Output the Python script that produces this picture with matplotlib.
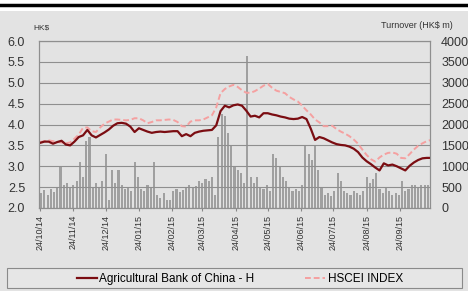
import matplotlib
matplotlib.use('Agg')
import matplotlib.pyplot as plt
import matplotlib.dates as mdates
from matplotlib.patches import Rectangle
from matplotlib.lines import Line2D
import pandas as pd
import numpy as np

plt.rcParams['font.family'] = ['Liberation Sans', 'DejaVu Sans']

# prices every 4 days from 24/10/14
price_start = '2014-10-24'
abc_h = [3.56, 3.59, 3.59, 3.54, 3.58, 3.61, 3.52, 3.50, 3.59, 3.70,
         3.74, 3.87, 3.74, 3.69, 3.75, 3.81, 3.88, 3.97, 4.03, 4.04,
         4.02, 3.95, 3.82, 3.91, 3.87, 3.83, 3.80, 3.82, 3.83, 3.82,
         3.83, 3.84, 3.84, 3.72, 3.77, 3.72, 3.80, 3.83, 3.85, 3.86,
         3.87, 3.98, 4.32, 4.45, 4.41, 4.46, 4.48, 4.45, 4.33, 4.19,
         4.21, 4.17, 4.27, 4.27, 4.24, 4.22, 4.19, 4.17, 4.14, 4.13,
         4.14, 4.18, 4.13, 3.90, 3.63, 3.70, 3.67, 3.62, 3.57, 3.53,
         3.51, 3.50, 3.47, 3.42, 3.34, 3.21, 3.12, 3.05, 2.97, 2.90,
         3.07, 3.02, 3.04, 3.00, 2.95, 2.90, 3.01, 3.09, 3.15, 3.19,
         3.20, 3.20]
hscei = [3.58, 3.60, 3.62, 3.60, 3.58, 3.57, 3.55, 3.57, 3.66, 3.76,
         3.92, 3.93, 3.84, 3.82, 3.93, 4.02, 4.07, 4.12, 4.12, 4.11,
         4.10, 4.11, 4.15, 4.15, 4.10, 4.03, 4.06, 4.10, 4.10, 4.11,
         4.12, 4.11, 4.06, 3.96, 3.95, 4.07, 4.10, 4.10, 4.12, 4.17,
         4.22, 4.41, 4.75, 4.85, 4.91, 4.95, 4.90, 4.82, 4.76, 4.76,
         4.80, 4.86, 4.93, 4.97, 4.88, 4.81, 4.78, 4.75, 4.66, 4.60,
         4.55, 4.45, 4.34, 4.24, 4.12, 4.05, 3.96, 3.96, 3.97, 3.89,
         3.83, 3.78, 3.72, 3.64, 3.54, 3.40, 3.27, 3.17, 3.11, 3.21,
         3.28, 3.32, 3.33, 3.30, 3.20, 3.19, 3.29, 3.40, 3.49, 3.55,
         3.60, 3.63]

# turnover every 3 days (HK$ m)
turnover = [350, 420, 300, 450, 380, 500, 1000, 550, 600, 480,
            560, 650, 1100, 750, 1600, 1700, 500, 600, 480, 650,
            1300, 200, 900, 600, 900, 550, 450, 500, 400, 1100,
            750, 450, 400, 550, 500, 1100, 300, 250, 350, 200,
            180, 400, 450, 380, 420, 500, 550, 480, 520, 650,
            600, 700, 650, 750, 300, 1700, 2250, 2200, 1800, 1500,
            1000, 900, 850, 600, 3650, 750, 600, 750, 500, 450,
            550, 400, 1300, 1200, 1000, 750, 650, 500, 400, 450,
            400, 550, 1500, 1300, 1150, 1500, 900, 500, 300, 350,
            280, 400, 850, 650, 400, 350, 300, 400, 350, 300,
            400, 750, 600, 700, 850, 450, 350, 500, 400, 300,
            350, 300, 650, 400, 450, 550, 550, 500, 550, 550,
            550, 550]

price_dates = pd.date_range(price_start, periods=len(abc_h), freq='4D')
turn_dates = pd.date_range(price_start, periods=len(turnover), freq='3D')
tick_dates = pd.date_range('2014-10-01', periods=12, freq='MS') + pd.Timedelta(days=23)

bg = '#e3e3e3'
fig = plt.figure(figsize=(4.68, 2.91), dpi=100, facecolor=bg)

ax = fig.add_axes([39/468, 1-208/291, 391/468, 167/291])
ax2 = ax.twinx()
ax.set_zorder(ax2.get_zorder()+1)
ax.patch.set_visible(False)
ax2.patch.set_facecolor(bg)

ax2.bar(turn_dates, turnover, width=2.0, color='#a0a0a0', align='edge')
ax2.set_ylim(0, 4000)
ax2.set_yticks(np.arange(0, 4001, 500))

ax.plot(price_dates, hscei, color='#f5a0a0', lw=1.4, ls=(0, (3, 1.5)), label='HSCEI INDEX')
ax.plot(price_dates, abc_h, color='#7b0d12', lw=1.6, label='Agricultural Bank of China - H')
ax.set_ylim(2.0, 6.0)
ax.set_yticks(np.arange(2.0, 6.01, 0.5))
ax.set_yticklabels(['%.1f' % v for v in np.arange(2.0, 6.01, 0.5)])
ax.grid(axis='y', color='#8f8f8f', lw=0.8)
ax.set_xlim(pd.Timestamp('2014-10-23'), pd.Timestamp('2015-10-22'))
ax.set_xticks(tick_dates)
ax.xaxis.set_major_formatter(mdates.DateFormatter('%d/%m/%y'))
for lab in ax.get_xticklabels():
    lab.set(rotation=90, fontsize=6.5, color='#333333')

ax.tick_params(axis='y', length=0, labelsize=9, pad=10, colors='#333333')
ax.tick_params(axis='x', length=2, pad=3, color='#888888')
ax2.tick_params(axis='y', length=0, labelsize=9, pad=8, colors='#333333')
for a in (ax, ax2):
    for s in a.spines.values():
        s.set_color('#8f8f8f')
        s.set_linewidth(0.8)

fig.text(33/468, 1-28/291, 'HK$', fontsize=6, color='#333333', va='center')
fig.text(453/468, 1-25/291, 'Turnover (HK$ m)', fontsize=6.5, color='#333333', va='center', ha='right')

# top band with black rule
fig.patches.append(Rectangle((0, 1-11/291), 1, 11/291, transform=fig.transFigure,
                             facecolor='white', edgecolor='none', zorder=0))
fig.add_artist(Line2D([0, 1], [1-5/291, 1-5/291], transform=fig.transFigure, color='black', lw=2.5))

# legend box
fig.patches.append(Rectangle((7/468, 1-288/291), 455/468, 20/291, transform=fig.transFigure,
                             facecolor='#e6e6e6', edgecolor='#8a8a8a', lw=0.8, zorder=0))
h, l = ax.get_legend_handles_labels()
fig.legend(h[::-1], l[::-1], loc='center', bbox_to_anchor=(240/468, 1-279/291), ncol=2,
           frameon=False, fontsize=8.5, handlelength=1.7, handletextpad=0.2,
           columnspacing=4.3)

plt.savefig('out.png', dpi=100, facecolor=bg)
